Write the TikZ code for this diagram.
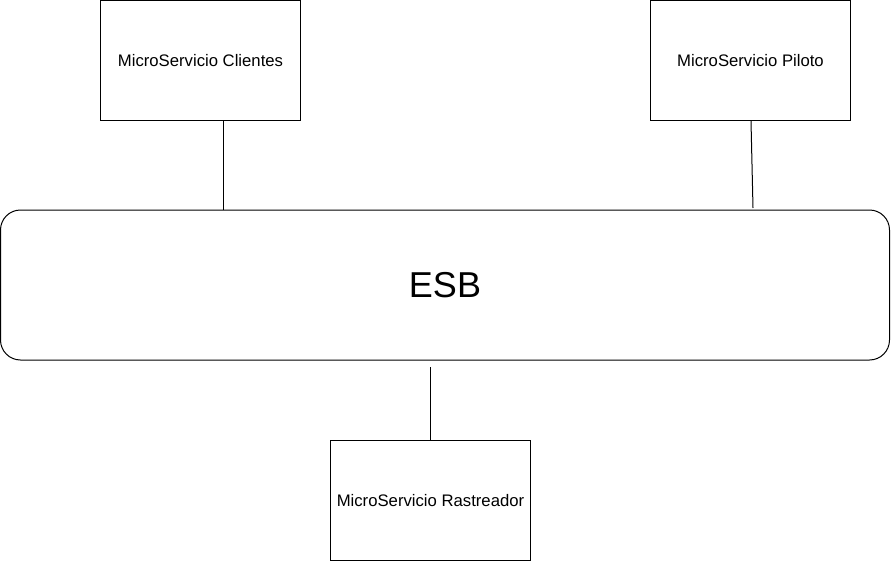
\documentclass[tikz,border=0pt]{standalone}
\usepackage{fontspec}
\setmainfont{Liberation Sans}
\usetikzlibrary{positioning}

\begin{document}
\begin{tikzpicture}[x=1pt,y=-1pt,
		servicio/.style={draw, line width=1pt, minimum width=200pt, minimum height=120pt, inner sep=0pt, font=\fontsize{16.7}{19}\selectfont},
		bus/.style={draw, rounded corners=20pt, line width=1pt, minimum width=889pt, minimum height=150pt, inner sep=0pt, font=\fontsize{36}{40}\selectfont}]
		\useasboundingbox (0,0) rectangle (892,562);

		% Bus.
		\node[bus] (esb) at (445,285) {ESB};

		% Microservices.
		\node[servicio] (clientes) at (200.5,60.5) {MicroServicio Clientes};
		\node[servicio] (piloto) at (750.5,60.5) {MicroServicio Piloto};
		\node[servicio] (rastreador) at (430.5,500.5) {MicroServicio Rastreador};

		% Connections.
		\coordinate (cliEsb) at (223,210);
		\coordinate (pilEsb) at (753,208);
		\coordinate (rasEsb) at (430.5,367);
		\draw[line width=1pt] (clientes.south -| cliEsb) -- (cliEsb);
		\draw[line width=1pt] ([xshift=0.5pt]piloto.south) -- (pilEsb);
		\draw[line width=1pt] (rastreador.north) -- (rasEsb);

	\end{tikzpicture}
\end{document}
